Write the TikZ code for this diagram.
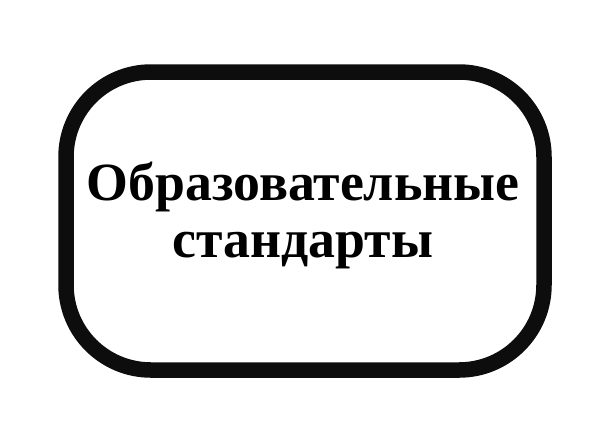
\documentclass[tikz,border=0pt]{standalone}
\usepackage{fontspec}
\setmainfont{Liberation Serif}
\begin{document}
\begin{tikzpicture}[x=0.5pt,y=-0.5pt,
  frame/.style={draw=black!95, line width=7.75pt, rounded corners=42.5pt, minimum width=239pt, minimum height=149pt, fill=white, inner sep=0pt},
  caption/.style={font=\bfseries\fontsize{26.9pt}{28.5pt}\selectfont, align=center, inner sep=0pt}]
\useasboundingbox (0,0) rectangle (600,420);
\node[frame] (box) at (305,221) {};
\node[caption, anchor=base] (title) at (303,257) {Образовательные\\стандарты};
\end{tikzpicture}
\end{document}
